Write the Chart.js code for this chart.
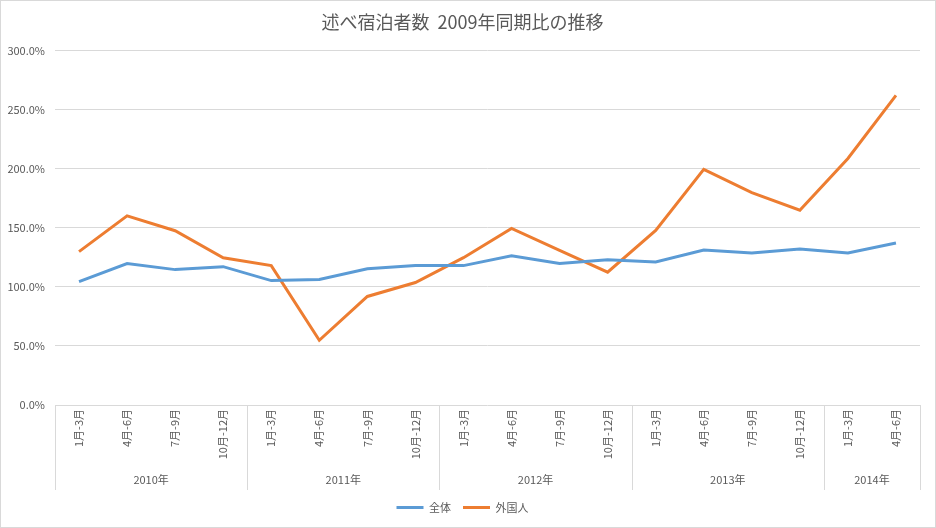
<!DOCTYPE html>
<html>
<head>
<meta charset="utf-8">
<script src="https://cdn.jsdelivr.net/npm/chart.js@4/dist/chart.umd.min.js"></script>
<style>
html,body{margin:0;padding:0;background:#fff;}
#wrap{width:934px;height:526px;border:1px solid #d9d9d9;}
canvas{display:block;}
</style>
</head>
<body>
<div id="wrap"><canvas id="c" width="934" height="526"></canvas></div>
<script>
const quarters = ['1月-3月','4月-6月','7月-9月','10月-12月','1月-3月','4月-6月','7月-9月','10月-12月','1月-3月','4月-6月','7月-9月','10月-12月','1月-3月','4月-6月','7月-9月','10月-12月','1月-3月','4月-6月'];
const years = ['2010年','2011年','2012年','2013年','2014年'];
const yearCenters = [1.5, 5.5, 9.5, 13.5, 16.5];
const yearBounds = [-0.5, 3.5, 7.5, 11.5, 15.5, 17.5];
const totalValues = [104.5, 119.7, 114.6, 117.1, 105.3, 106.2, 115.4, 118.0, 118.0, 126.4, 119.7, 122.9, 121.0, 131.2, 128.7, 132.0, 128.7, 137.1];
const foreignValues = [129.8, 160.1, 147.5, 124.7, 118.0, 54.8, 91.9, 103.7, 124.7, 149.4, 130.9, 112.4, 147.8, 199.4, 179.8, 164.9, 208.7, 262.1];
const yTicks = [0, 50, 100, 150, 200, 250, 300];

const FONT = '"Noto Sans CJK JP", "Noto Sans", sans-serif';
const TXT = '#595959';
const GRID = '#d9d9d9';

const separators = {
  id: 'separators',
  afterDraw(chart) {
    const x2 = chart.scales.x2;
    const ctx = chart.ctx;
    ctx.save();
    ctx.strokeStyle = GRID;
    ctx.lineWidth = 1;
    ctx.beginPath();
    yearBounds.forEach(b => {
      const px = Math.round(x2.getPixelForValue(b)) + 0.5;
      ctx.moveTo(px, chart.chartArea.bottom);
      ctx.lineTo(px, x2.bottom);
    });
    ctx.stroke();
    ctx.restore();
  }
};

new Chart(document.getElementById('c'), {
  type: 'line',
  data: {
    labels: quarters,
    datasets: [
      {label: '全体', data: totalValues, borderColor: '#5B9BD5', backgroundColor: '#5B9BD5', borderWidth: 3, pointRadius: 0, tension: 0},
      {label: '外国人', data: foreignValues, borderColor: '#ED7D31', backgroundColor: '#ED7D31', borderWidth: 3, pointRadius: 0, tension: 0}
    ]
  },
  options: {
    responsive: false,
    animation: false,
    layout: {padding: {left: 4, right: 15, top: 0, bottom: 4}},
    plugins: {
      title: {display: true, text: '述べ宿泊者数  2009年同期比の推移', color: TXT, font: {family: FONT, size: 18, weight: 'normal'}, padding: {top: 10, bottom: 18}},
      legend: {position: 'bottom', labels: {color: TXT, font: {family: FONT, size: 11}, usePointStyle: true, pointStyle: 'line', pointStyleWidth: 27, padding: 12}},
      tooltip: {enabled: false}
    },
    scales: {
      y: {
        min: 0, max: 300,
        afterBuildTicks: s => { s.ticks = yTicks.map(v => ({value: v})); },
        afterFit: s => { s.width = 50; },
        ticks: {color: TXT, font: {family: FONT, size: 11}, padding: 10, callback: v => Number(v).toFixed(1) + '%'},
        grid: {color: GRID, drawTicks: false},
        border: {display: false}
      },
      x: {
        type: 'category',
        offset: true,
        afterFit: s => { s.height = 62; },
        ticks: {color: TXT, font: {family: FONT, size: 11}, autoSkip: false, minRotation: 90, maxRotation: 90, padding: 4},
        grid: {display: false, drawTicks: false},
        border: {display: false}
      },
      x2: {
        type: 'linear',
        position: 'bottom',
        min: -0.5, max: 17.5,
        afterBuildTicks: s => { s.ticks = yearCenters.map(v => ({value: v})); },
        afterFit: s => { s.height = 23; },
        ticks: {color: TXT, font: {family: FONT, size: 11}, autoSkip: false, maxRotation: 0, padding: 6, callback: (v, i) => years[i]},
        grid: {display: false, drawTicks: false},
        border: {display: false}
      }
    }
  },
  plugins: [separators]
});
</script>
</body>
</html>
